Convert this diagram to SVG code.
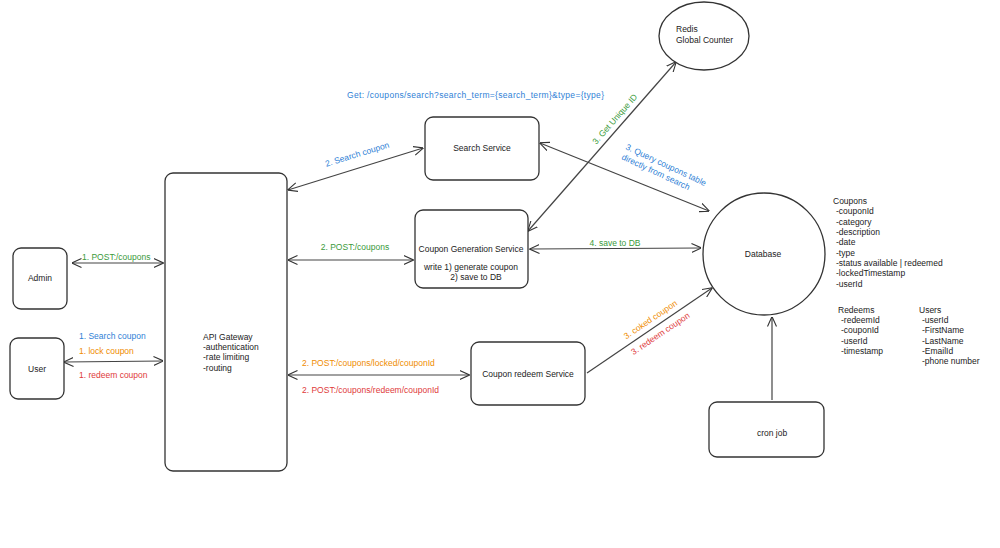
<svg xmlns="http://www.w3.org/2000/svg" width="1000" height="548" viewBox="0 0 1000 548">
<defs>
<marker id="ah" viewBox="0 0 10 10" refX="9.5" refY="5" markerWidth="10" markerHeight="10" markerUnits="userSpaceOnUse" orient="auto-start-reverse">
<path d="M0,0.5 L10,5 L0,9.5" fill="none" stroke="#333" stroke-width="1.1"/>
</marker>
<style>
.box{fill:#fff;stroke:#333;stroke-width:1.3}
.ln{fill:none;stroke:#444;stroke-width:1.2}
.t{font-family:"Liberation Sans",Arial,sans-serif;font-size:8.5px;fill:#222}
.c{text-anchor:middle}
.blue{fill:#2f7fd6}
.green{fill:#3a9a3a}
.orange{fill:#ef8c00}
.red{fill:#e03a3a}
</style>
</defs>
<rect width="1000" height="548" fill="#fff"/>

<g id="connectors">
<line class="ln" x1="72" y1="263" x2="163" y2="263" marker-start="url(#ah)" marker-end="url(#ah)"/>
<line class="ln" x1="64" y1="362" x2="163" y2="361" marker-start="url(#ah)" marker-end="url(#ah)"/>
<line class="ln" x1="288" y1="190" x2="423" y2="148" marker-start="url(#ah)" marker-end="url(#ah)"/>
<line class="ln" x1="288" y1="260" x2="413" y2="260" marker-start="url(#ah)" marker-end="url(#ah)"/>
<line class="ln" x1="288" y1="375" x2="469" y2="375" marker-start="url(#ah)" marker-end="url(#ah)"/>
<line class="ln" x1="540" y1="143" x2="709" y2="211" marker-start="url(#ah)" marker-end="url(#ah)"/>
<line class="ln" x1="528" y1="231" x2="676" y2="62" marker-start="url(#ah)" marker-end="url(#ah)"/>
<line class="ln" x1="530" y1="249" x2="701" y2="248" marker-start="url(#ah)" marker-end="url(#ah)"/>
<line class="ln" x1="587" y1="373" x2="712" y2="288" marker-end="url(#ah)"/>
<line class="ln" x1="772" y1="400" x2="772" y2="317" marker-end="url(#ah)" stroke-width="1.6"/>

<text class="t green" x="82" y="260">1. POST:/coupons</text>
<text class="t blue" x="79" y="339">1. Search coupon</text>
<text class="t orange" x="79" y="354">1. lock coupon</text>
<text class="t red" x="79" y="378">1. redeem coupon</text>
<text class="t blue c" transform="translate(358,157) rotate(-17)">2. Search coupon</text>
<text class="t green c" x="355" y="250">2. POST:/coupons</text>
<text class="t orange" x="302" y="366">2. POST:/coupons/locked/couponId</text>
<text class="t red" x="302" y="393">2. POST:/coupons/redeem/couponId</text>
<text class="t blue" x="347" y="98" textLength="257" lengthAdjust="spacing">Get: /coupons/search?search_term={search_term}&amp;type={type}</text>
<text class="t blue" transform="translate(625,149) rotate(25)">3. Query coupons table</text>
<text class="t blue" transform="translate(621,159) rotate(25)">directly from search</text>
<text class="t green c" transform="translate(617,121) rotate(-49)">3. Get Unique ID</text>
<text class="t green c" x="615" y="246">4. save to DB</text>
<text class="t orange c" transform="translate(652,322) rotate(-34)">3. coked coupon</text>
<text class="t red c" transform="translate(662,336) rotate(-34)">3. redeem coupon</text>
</g>

<g id="admin">
<rect class="box" x="13" y="248" width="54" height="61" rx="8"/>
<text class="t c" x="40" y="281">Admin</text>
</g>
<g id="user">
<rect class="box" x="10" y="338" width="54" height="61" rx="8"/>
<text class="t c" x="37" y="372">User</text>
</g>
<g id="api-gateway">
<rect class="box" x="165" y="173" width="122" height="298" rx="8"/>
<text class="t" x="203" y="340">API Gateway</text>
<text class="t" x="203" y="350">-authentication</text>
<text class="t" x="203" y="360">-rate limiting</text>
<text class="t" x="203" y="371">-routing</text>
</g>
<g id="search-service">
<rect class="box" x="425" y="117" width="114" height="63" rx="8"/>
<text class="t c" x="482" y="151">Search Service</text>
</g>
<g id="coupon-generation-service">
<rect class="box" x="415" y="210" width="113" height="78" rx="8"/>
<text class="t c" x="471" y="252">Coupon Generation Service</text>
<text class="t c" x="471" y="270">write 1) generate coupon</text>
<text class="t c" x="476" y="280">2) save to DB</text>
</g>
<g id="coupon-redeem-service">
<rect class="box" x="471" y="342" width="114" height="63" rx="8"/>
<text class="t c" x="528" y="377">Coupon redeem Service</text>
</g>
<g id="redis">
<ellipse class="box" cx="704" cy="36" rx="45" ry="34"/>
<text class="t" x="676" y="32">Redis</text>
<text class="t" x="676" y="43">Global Counter</text>
</g>
<g id="database">
<circle class="box" cx="764" cy="254" r="61"/>
<text class="t c" x="763" y="257">Database</text>
</g>
<g id="cron-job">
<rect class="box" x="709" y="402" width="115" height="55" rx="8"/>
<text class="t c" x="772" y="436">cron job</text>
</g>
<g id="schema">
<text class="t" x="833" y="204">Coupons</text>
<text class="t" x="836" y="214">-couponId</text>
<text class="t" x="836" y="225">-category</text>
<text class="t" x="836" y="235">-description</text>
<text class="t" x="836" y="245">-date</text>
<text class="t" x="836" y="256">-type</text>
<text class="t" x="836" y="266">-status available | redeemed</text>
<text class="t" x="836" y="276">-lockedTimestamp</text>
<text class="t" x="836" y="287">-userId</text>
<text class="t" x="838" y="313">Redeems</text>
<text class="t" x="841" y="323">-redeemId</text>
<text class="t" x="841" y="333">-couponId</text>
<text class="t" x="841" y="344">-userId</text>
<text class="t" x="841" y="354">-timestamp</text>
<text class="t" x="919" y="313">Users</text>
<text class="t" x="922" y="323">-userId</text>
<text class="t" x="922" y="333">-FirstName</text>
<text class="t" x="922" y="344">-LastName</text>
<text class="t" x="922" y="354">-EmailId</text>
<text class="t" x="922" y="364">-phone number</text>
</g>
</svg>
